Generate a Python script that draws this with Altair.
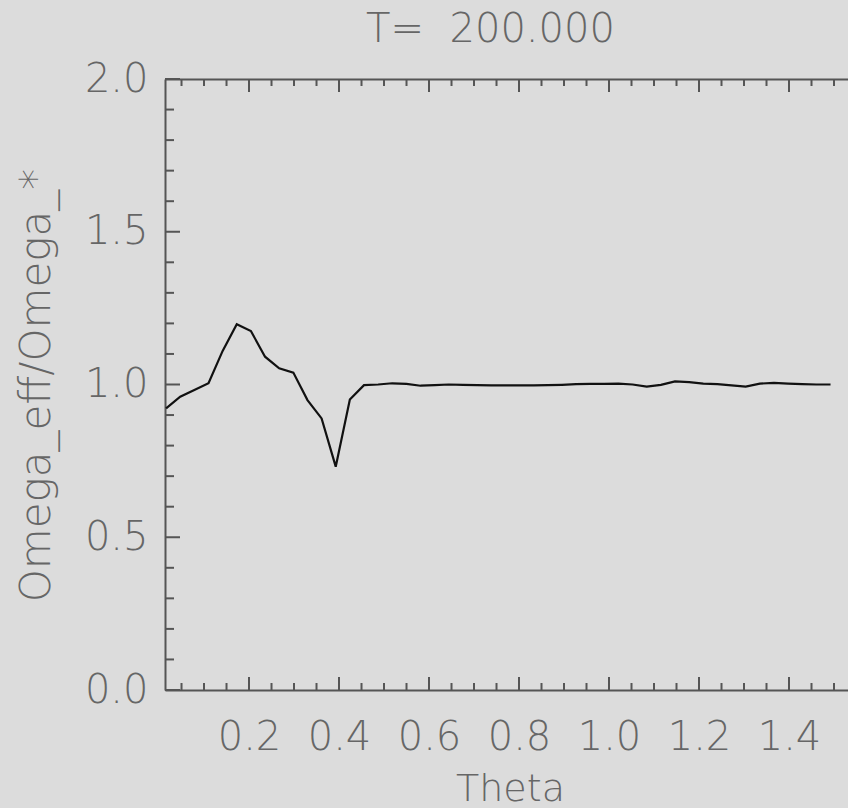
import altair as alt
import pandas as pd

# Angle grid and normalised effective frequency at T = 200
theta = [0.0157, 0.0471, 0.0785, 0.1100, 0.1414, 0.1728, 0.2042, 0.2356,
         0.2670, 0.2985, 0.3299, 0.3613, 0.3927, 0.4241, 0.4555, 0.4869,
         0.5184, 0.5498, 0.5812, 0.6126, 0.6440, 0.6754, 0.7069, 0.7383,
         0.7697, 0.8011, 0.8325, 0.8639, 0.8954, 0.9268, 0.9582, 0.9896,
         1.0210, 1.0524, 1.0838, 1.1153, 1.1467, 1.1781, 1.2095, 1.2409,
         1.2723, 1.3038, 1.3352, 1.3666, 1.3980, 1.4294, 1.4608, 1.4923]
omega_ratio = [0.922, 0.960, 0.982, 1.004, 1.110, 1.197, 1.175, 1.091,
               1.053, 1.039, 0.949, 0.889, 0.731, 0.951, 0.998, 1.000,
               1.004, 1.002, 0.996, 0.998, 1.000, 0.999, 0.998, 0.997,
               0.997, 0.997, 0.997, 0.998, 0.999, 1.001, 1.002, 1.002,
               1.003, 1.000, 0.993, 0.999, 1.010, 1.008, 1.003, 1.001,
               0.997, 0.993, 1.003, 1.005, 1.003, 1.001, 1.000, 1.000]

# Axis tick values
x_major = [0.2, 0.4, 0.6, 0.8, 1.0, 1.2, 1.4]
x_minor = [0.05, 0.1, 0.15, 0.25, 0.3, 0.35, 0.45, 0.5, 0.55, 0.65, 0.7, 0.75,
           0.85, 0.9, 0.95, 1.05, 1.1, 1.15, 1.25, 1.3, 1.35, 1.45, 1.5]
y_major = [0.0, 0.5, 1.0, 1.5, 2.0]
y_minor = [0.1, 0.2, 0.3, 0.4, 0.6, 0.7, 0.8, 0.9, 1.1, 1.2, 1.3, 1.4,
           1.6, 1.7, 1.8, 1.9]

W, H = 683, 611
INK = "#555555"
TXT = "#666666"
FONT = "DejaVu Sans"

xs = alt.Scale(domain=[0.0133, 1.5311], nice=False, zero=False)
ys = alt.Scale(domain=[0.0, 2.0], nice=False, zero=False)

df = pd.DataFrame({"theta": theta, "omega": omega_ratio})
xmaj = pd.DataFrame({"v": x_major})
xmin = pd.DataFrame({"v": x_minor})
ymaj = pd.DataFrame({"v": y_major})
ymin = pd.DataFrame({"v": y_minor})

bottom_axis = alt.Axis(
    orient="bottom", values=x_major, format=".1f", ticks=False, tickSize=0,
    grid=False, domainColor=INK, domainWidth=2, labelColor=TXT,
    labelFont=FONT, labelFontSize=40, labelFontWeight=200, labelPadding=47,
    labelBaseline="middle", labelFlush=False, labelOverlap=False,
    title="Theta", titleFont=FONT, titleFontSize=38, titleFontWeight=200,
    titleColor=TXT, titleX=345, titleY=110, titleAlign="center",
    titleBaseline="alphabetic", titleAnchor="start",
)
left_axis = alt.Axis(
    orient="left", values=y_major, format=".1f", ticks=False, tickSize=0,
    grid=False, domainColor=INK, domainWidth=2, labelColor=TXT,
    labelFont=FONT, labelFontSize=40, labelFontWeight=200, labelPadding=17,
    labelBaseline="middle", labelFlush=False, labelOverlap=False,
    title="Omega_eff/Omega_*", titleFont=FONT, titleFontSize=42,
    titleFontWeight=200, titleColor=TXT, titleX=-116, titleY=306,
    titleAngle=270, titleAlign="center", titleBaseline="alphabetic",
    titleAnchor="start",
)
top_axis = alt.Axis(
    orient="top", ticks=False, tickSize=0, labels=False, grid=False,
    domainColor=INK, domainWidth=2, title=None,
)

line = alt.Chart(df).mark_line(color="#111111", strokeWidth=2.2, clip=True).encode(
    x=alt.X("theta:Q", scale=xs, axis=bottom_axis),
    y=alt.Y("omega:Q", scale=ys, axis=left_axis),
)

tick_style = dict(color=INK, strokeWidth=2)

x_top_major = alt.Chart(xmaj).mark_rule(**tick_style).encode(
    x=alt.X("v:Q", scale=xs, axis=top_axis), y=alt.value(0), y2=alt.value(13))
x_bot_major = alt.Chart(xmaj).mark_rule(**tick_style).encode(
    x=alt.X("v:Q", scale=xs, axis=None), y=alt.value(H), y2=alt.value(H - 13))
x_top_minor = alt.Chart(xmin).mark_rule(**tick_style).encode(
    x=alt.X("v:Q", scale=xs, axis=None), y=alt.value(0), y2=alt.value(7))
x_bot_minor = alt.Chart(xmin).mark_rule(**tick_style).encode(
    x=alt.X("v:Q", scale=xs, axis=None), y=alt.value(H), y2=alt.value(H - 7))
y_left_major = alt.Chart(ymaj).mark_rule(**tick_style).encode(
    y=alt.Y("v:Q", scale=ys, axis=None), x=alt.value(0), x2=alt.value(15))
y_left_minor = alt.Chart(ymin).mark_rule(**tick_style).encode(
    y=alt.Y("v:Q", scale=ys, axis=None), x=alt.value(0), x2=alt.value(9))

chart = alt.layer(
    line, x_top_major, x_bot_major, x_top_minor, x_bot_minor,
    y_left_major, y_left_minor,
).resolve_axis(x="independent", y="independent").properties(
    width=W, height=H,
    autosize=alt.AutoSizeParams(type="none"),
    padding={"left": 165, "top": 79, "right": 0, "bottom": 118},
    background="#dcdcdc",
    title=alt.TitleParams(
        "T=\u00a0 200.000", font=FONT, fontSize=40, fontWeight=200, color=TXT,
        anchor="middle", frame="group", offset=-2, baseline="alphabetic",
        dx=-16, dy=21,
    ),
).configure_view(stroke=None)

chart.save("out.html", embed_options={"renderer": "svg", "actions": False})
